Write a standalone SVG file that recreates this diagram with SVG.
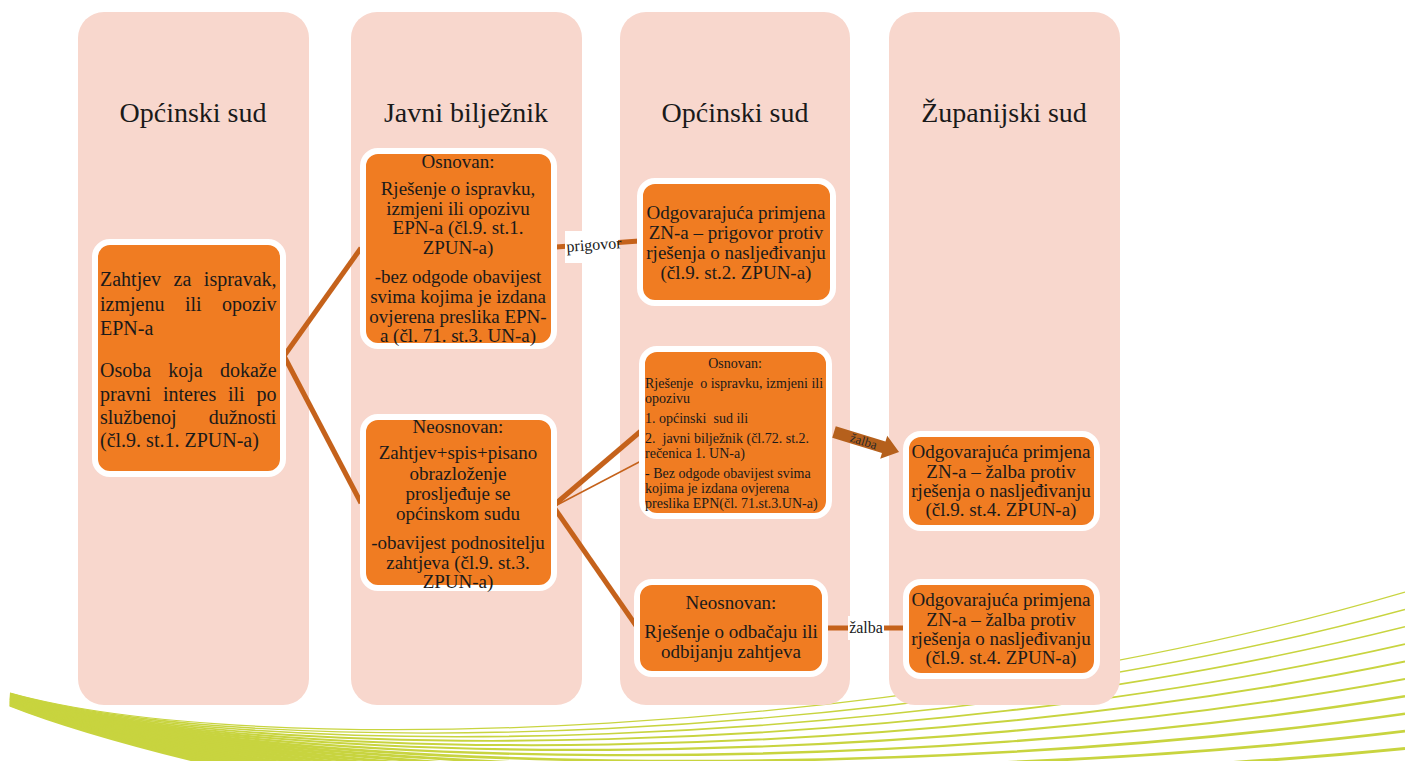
<svg xmlns="http://www.w3.org/2000/svg" width="1405" height="761" viewBox="0 0 1405 761">
<style>
.col{fill:#F8D7CD}
.title{font-family:"Liberation Serif",serif;font-size:28px;fill:#1a1a1a;text-anchor:middle}
.box{fill:#F07C22;stroke:#fff;stroke-width:6}
.t{font-family:"Liberation Serif",serif;font-size:19px;fill:#1a1a1a;text-anchor:middle}
.tl{font-family:"Liberation Serif",serif;font-size:20px;fill:#1a1a1a}
.ts{font-family:"Liberation Serif",serif;font-size:14px;fill:#1a1a1a}
.con{stroke:#C5621B;stroke-width:5;fill:none}
.lbl{font-family:"Liberation Serif",serif;font-size:16px;fill:#1a1a1a;text-anchor:middle}
.g{fill:none;stroke:#C8D43F}
</style>
<defs>
<marker id="open" viewBox="0 0 16 16" refX="1" refY="8" markerWidth="16" markerHeight="16" markerUnits="userSpaceOnUse" orient="auto">
<path d="M15,1 L1,8 L15,15" fill="none" stroke="#C5621B" stroke-width="1.6"/>
</marker>
</defs>
<rect width="1405" height="761" fill="#fff"/>
<g id="decor">
<path class="g" stroke-width="1.2" d="M10,693 C250,760 900,740 1405,592"/>
<path class="g" stroke-width="1.4" d="M10,693.5 C250,761.7 900,746.5 1405,609.4"/>
<path class="g" stroke-width="1.6" d="M10,694 C250,763.5 900,753 1405,626.8"/>
<path class="g" stroke-width="1.8" d="M10,694.6 C250,765.2 900,759.6 1405,644.2"/>
<path class="g" stroke-width="2" d="M10,695.1 C250,767 900,766.1 1405,661.6"/>
<path class="g" stroke-width="2.2" d="M10,695.6 C250,768.7 900,772.6 1405,679"/>
<path class="g" stroke-width="2.4" d="M10,696.1 C250,770.4 900,779.1 1405,696.3"/>
<path class="g" stroke-width="2.6" d="M10,696.7 C250,772.2 900,785.7 1405,713.7"/>
<path class="g" stroke-width="2.8" d="M10,697.2 C250,773.9 900,792.2 1405,731.1"/>
<path class="g" stroke-width="3" d="M10,697.7 C250,775.7 900,798.7 1405,748.5"/>
<path class="g" stroke-width="3" d="M10,698.2 C250,777.4 900,805.2 1405,765.9"/>
<path class="g" stroke-width="3" d="M10,698.7 C250,779.1 900,811.7 1405,783"/>
<path class="g" stroke-width="3" d="M10,699.3 C250,780.9 900,818.3 1405,800"/>
<path class="g" stroke-width="3" d="M10,699.8 C250,782.6 900,824.8 1405,818"/>
<path class="g" stroke-width="3" d="M10,700.3 C250,784.3 900,831.3 1405,835"/>
<path class="g" stroke-width="3" d="M10,700.8 C250,786.1 900,837.8 1405,852"/>
<path class="g" stroke-width="3" d="M10,701.4 C250,787.8 900,844.3 1405,870"/>
<path class="g" stroke-width="3" d="M10,701.9 C250,789.6 900,850.9 1405,887"/>
<path class="g" stroke-width="3" d="M10,702.4 C250,791.3 900,857.4 1405,905"/>
<path class="g" stroke-width="3" d="M10,702.9 C250,793 900,863.9 1405,922"/>
<path class="g" stroke-width="3" d="M10,703.5 C250,794.8 900,870.4 1405,940"/>
<path class="g" stroke-width="3" d="M10,704 C250,796.5 900,877 1405,957"/>
<path class="g" stroke-width="3" d="M10,704.5 C250,798.3 900,883.5 1405,974"/>
<path class="g" stroke-width="3" d="M10,705 C250,800 900,890 1405,992"/>
</g>
<g id="columns">
<rect class="col" x="78" y="12" width="231" height="693" rx="26"/>
<rect class="col" x="351" y="12" width="231" height="693" rx="26"/>
<rect class="col" x="620" y="12" width="230" height="693" rx="26"/>
<rect class="col" x="889" y="12" width="231" height="693" rx="26"/>
<text class="title" x="193" y="122">Općinski sud</text>
<text class="title" x="466" y="122">Javni bilježnik</text>
<text class="title" x="735" y="122">Općinski sud</text>
<text class="title" x="1004" y="122">Županijski sud</text>
</g>
<g id="connectors">
<line class="con" x1="284" y1="356" x2="361" y2="248"/>
<line class="con" x1="284" y1="356" x2="361" y2="503"/>
<line class="con" x1="553" y1="506" x2="641" y2="431"/>
<line class="con" x1="553" y1="506" x2="637" y2="627"/>
<line x1="643" y1="460" x2="557" y2="505" stroke="#C5621B" stroke-width="1.5" marker-end="url(#open)"/>
<line class="con" x1="556" y1="247" x2="639" y2="241"/>
<rect x="565" y="231" width="53" height="32" fill="#fff"/>
<text class="lbl" x="594" y="250" transform="rotate(-4 594 245)">prigovor</text>
<line class="con" x1="826" y1="628" x2="906" y2="628"/>
<rect x="848" y="616" width="36" height="24" fill="#fff"/>
<text class="lbl" x="866" y="633">žalba</text>
<g transform="translate(834,432) rotate(17)">
<path d="M0,-6 L52,-6 L52,-12 L68,0 L52,12 L52,6 L0,6 Z" fill="#B5601C"/>
<text x="31" y="4.5" font-family="Liberation Serif, serif" font-size="13" fill="#2a2a2a" text-anchor="middle">žalba</text>
</g>
</g>
<g id="n1">
<rect class="box" x="95" y="242" width="188" height="232" rx="15"/>
<text class="tl" x="100" y="286" word-spacing="7.5">Zahtjev za ispravak,</text>
<text class="tl" x="100" y="310.5" word-spacing="15.5">izmjenu ili opoziv</text>
<text class="tl" x="100" y="335">EPN-a</text>
<text class="tl" x="100" y="377" word-spacing="12.2">Osoba koja dokaže</text>
<text class="tl" x="100" y="400.5" word-spacing="6.8">pravni interes ili po</text>
<text class="tl" x="100" y="424" word-spacing="27">službenoj dužnosti</text>
<text class="tl" x="100" y="447">(čl.9. st.1. ZPUN-a)</text>
</g>
<g id="n2">
<rect class="box" x="363" y="151" width="191" height="195" rx="15"/>
<text class="t" x="458" y="168">Osnovan:</text>
<text class="t" x="458" y="195">Rješenje o ispravku,</text>
<text class="t" x="458" y="215">izmjeni ili opozivu</text>
<text class="t" x="458" y="234">EPN-a (čl.9. st.1.</text>
<text class="t" x="458" y="254">ZPUN-a)</text>
<text class="t" x="458" y="283">-bez odgode obavijest</text>
<text class="t" x="458" y="303">svima kojima je izdana</text>
<text class="t" x="458" y="323">ovjerena preslika EPN-</text>
<text class="t" x="458" y="342">a (čl. 71. st.3. UN-a)</text>
</g>
<g id="n3">
<rect class="box" x="363" y="417" width="191" height="171" rx="15"/>
<text class="t" x="458" y="433">Neosnovan:</text>
<text class="t" x="458" y="459">Zahtjev+spis+pisano</text>
<text class="t" x="458" y="480">obrazloženje</text>
<text class="t" x="458" y="500">prosljeđuje se</text>
<text class="t" x="458" y="520">općinskom sudu</text>
<text class="t" x="458" y="549">-obavijest podnositelju</text>
<text class="t" x="458" y="569">zahtjeva (čl.9. st.3.</text>
<text class="t" x="458" y="588">ZPUN-a)</text>
</g>
<g id="n4">
<rect class="box" x="640" y="181" width="193" height="122" rx="15"/>
<text class="t" x="736" y="219">Odgovarajuća primjena</text>
<text class="t" x="736" y="239">ZN-a – prigovor protiv</text>
<text class="t" x="736" y="259">rješenja o nasljeđivanju</text>
<text class="t" x="736" y="279">(čl.9. st.2. ZPUN-a)</text>
</g>
<g id="n5">
<rect class="box" x="642" y="349" width="187" height="167" rx="15"/>
<text class="ts" x="735" y="368" text-anchor="middle">Osnovan:</text>
<text class="ts" x="645" y="388" xml:space="preserve">Rješenje  o ispravku, izmjeni ili</text>
<text class="ts" x="645" y="403">opozivu</text>
<text class="ts" x="645" y="423" xml:space="preserve">1. općinski  sud ili</text>
<text class="ts" x="645" y="443" xml:space="preserve">2.  javni bilježnik (čl.72. st.2.</text>
<text class="ts" x="645" y="458">rečenica 1. UN-a)</text>
<text class="ts" x="645" y="478">- Bez odgode obavijest svima</text>
<text class="ts" x="645" y="493">kojima je izdana ovjerena</text>
<text class="ts" x="645" y="508">preslika EPN(čl. 71.st.3.UN-a)</text>
</g>
<g id="n6">
<rect class="box" x="637" y="582" width="188" height="92" rx="15"/>
<text class="t" x="731" y="609">Neosnovan:</text>
<text class="t" x="731" y="638">Rješenje o odbačaju ili</text>
<text class="t" x="731" y="658">odbijanju zahtjeva</text>
</g>
<g id="n7">
<rect class="box" x="906" y="434" width="191" height="94" rx="15"/>
<text class="t" x="1001" y="458">Odgovarajuća primjena</text>
<text class="t" x="1001" y="478">ZN-a – žalba protiv</text>
<text class="t" x="1001" y="497">rješenja o nasljeđivanju</text>
<text class="t" x="1001" y="516">(čl.9. st.4. ZPUN-a)</text>
</g>
<g id="n8">
<rect class="box" x="906" y="582" width="191" height="94" rx="15"/>
<text class="t" x="1001" y="606">Odgovarajuća primjena</text>
<text class="t" x="1001" y="626">ZN-a – žalba protiv</text>
<text class="t" x="1001" y="645">rješenja o nasljeđivanju</text>
<text class="t" x="1001" y="664">(čl.9. st.4. ZPUN-a)</text>
</g>
</svg>
